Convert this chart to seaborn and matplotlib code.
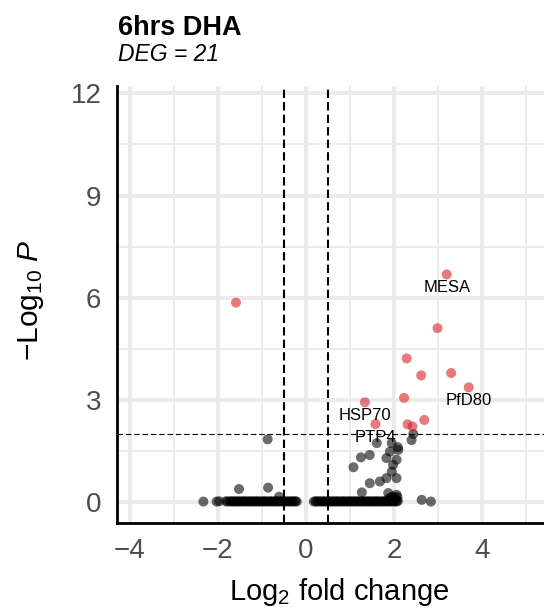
import matplotlib
matplotlib.use("Agg")
import matplotlib.pyplot as plt
import seaborn as sns
import pandas as pd
from matplotlib.ticker import MultipleLocator

# significant genes (log2 fold change, -log10 p)
sig_fc = [3.20, 2.99, 2.29, 2.62, 3.30, 3.70, 2.23, 1.34, 1.58, 2.69, 2.31, 2.42, -1.59]
sig_logp = [6.68, 5.10, 4.21, 3.71, 3.78, 3.36, 3.05, 2.92, 2.28, 2.40, 2.27, 2.21, 5.85]
sig_gene = ["MESA", "", "", "", "", "PfD80", "", "HSP70", "PTP4", "", "", "", ""]

# non-significant genes scattered above zero
ns_fc = [2.44, 2.40, 1.61, 1.95, 1.91, 2.10, 1.25, 1.45, 1.83, 2.06, 1.98, 1.08,
         1.95, 2.06, 1.83, 1.68, 1.45, 1.27, 1.87, 2.06, 2.63, 2.84, 2.09,
         -0.87, -1.52, -0.86, -0.61]
ns_logp = [1.99, 1.81, 1.72, 1.72, 1.47, 1.52, 1.30, 1.37, 1.28, 1.23, 1.08, 1.01,
           0.88, 0.69, 0.69, 0.59, 0.54, 0.27, 0.25, 0.20, 0.05, 0.00, 1.60,
           1.83, 0.37, 0.41, 0.14]

# bulk of genes sitting at -log10 p ~ 0
base_fc = [-2.33, -2.03, -1.97, -1.82, -1.78,
           -1.73, -1.69, -1.66, -1.62, -1.58, -1.55, -1.51, -1.47, -1.43, -1.40,
           -1.36, -1.32, -1.28, -1.25, -1.21, -1.17, -1.13, -1.10, -1.06, -1.02,
           -0.98, -0.95, -0.91, -0.87, -0.83, -0.80, -0.76, -0.72, -0.68, -0.65,
           -0.61, -0.57, -0.53, -0.50, -0.46, -0.42, -0.38, -0.35, -0.31, -0.27,
           -0.24, -0.21,
           0.18, 0.22, 0.25, 0.29, 0.33, 0.37, 0.40, 0.44, 0.48, 0.52, 0.55, 0.59,
           0.63, 0.67, 0.70, 0.74, 0.78, 0.82, 0.85, 0.89, 0.93, 0.97, 1.00, 1.04,
           1.08, 1.12, 1.15, 1.19, 1.23, 1.27, 1.30, 1.34, 1.38, 1.42, 1.45, 1.49,
           1.53, 1.57, 1.60, 1.64, 1.68, 1.72, 1.75, 1.79, 1.83, 1.87, 1.90, 1.94,
           1.98, 2.02, 2.06, 2.09,
           1.88, 1.93, 1.97, 2.02, 2.05, 1.91, 2.08, 2.00]
base_logp = [0.00, 0.00, 0.01, 0.01, 0.00,
             0.01, 0.00, 0.01, 0.00, 0.01, 0.00, 0.01, 0.00, 0.01, 0.00,
             0.01, 0.00, 0.01, 0.00, 0.01, 0.00, 0.01, 0.00, 0.01, 0.00,
             0.01, 0.00, 0.01, 0.00, 0.01, 0.00, 0.01, 0.00, 0.01, 0.00,
             0.01, 0.00, 0.01, 0.00, 0.01, 0.00, 0.01, 0.00, 0.01, 0.00,
             0.01, 0.00,
             0.00, 0.01, 0.00, 0.01, 0.00, 0.01, 0.00, 0.01, 0.00, 0.01, 0.00, 0.01,
             0.00, 0.01, 0.00, 0.01, 0.00, 0.01, 0.00, 0.01, 0.00, 0.01, 0.00, 0.01,
             0.00, 0.01, 0.00, 0.01, 0.00, 0.01, 0.00, 0.01, 0.00, 0.01, 0.00, 0.01,
             0.00, 0.01, 0.00, 0.01, 0.00, 0.01, 0.00, 0.01, 0.00, 0.01, 0.00, 0.01,
             0.00, 0.01, 0.00, 0.02,
             0.08, 0.12, 0.15, 0.10, 0.06, 0.04, 0.13, 0.03]

fc_cut = 0.5
p_cut = 2

df = pd.DataFrame({
    "log2fc": base_fc + ns_fc + sig_fc,
    "logp": base_logp + ns_logp + sig_logp,
    "status": ["NS"] * (len(base_fc) + len(ns_fc)) + ["DE"] * len(sig_fc),
})

sns.set_style("white")
plt.rcParams["font.family"] = ["Liberation Sans", "DejaVu Sans"]
plt.rcParams["mathtext.fontset"] = "custom"
plt.rcParams["mathtext.rm"] = "Liberation Sans"
plt.rcParams["mathtext.it"] = "Liberation Sans:italic"
plt.rcParams["text.color"] = "black"

fig = plt.figure(figsize=(5.44, 6.10), dpi=100)
ax = fig.add_axes([116.7 / 544, 1 - 523 / 610, 1 - 116.7 / 544, (523 - 86) / 610])

sns.scatterplot(data=df, x="log2fc", y="logp", hue="status",
                palette={"NS": "black", "DE": "#d81b20"},
                s=52, alpha=0.58, linewidth=0, legend=False, ax=ax, zorder=2)

for xv in (-fc_cut, fc_cut):
    ax.axvline(xv, color="black", lw=1.5, dashes=(4, 2), zorder=3)
ax.axhline(p_cut, color="black", lw=0.8, dashes=(5, 2.5), zorder=3)

for x, y, g in zip(sig_fc, sig_logp, sig_gene):
    if g:
        ax.annotate(g, (x, y), xytext=(0, -9.5), textcoords="offset points",
                    ha="center", va="center", fontsize=12, color="black")

ax.set_xlim(-4.30, 5.41)
ax.set_ylim(-0.63, 12.22)
ax.xaxis.set_major_locator(MultipleLocator(2))
ax.xaxis.set_minor_locator(MultipleLocator(1))
ax.yaxis.set_major_locator(MultipleLocator(3))
ax.yaxis.set_minor_locator(MultipleLocator(1.5))
ax.grid(which="major", color="#EBEBEB", lw=2.9, zorder=0)
ax.grid(which="minor", color="#EBEBEB", lw=1.4, zorder=0)
ax.set_axisbelow(True)

for side in ("top", "right"):
    ax.spines[side].set_visible(False)
for side in ("left", "bottom"):
    ax.spines[side].set_color("black")
    ax.spines[side].set_linewidth(2)

ax.tick_params(which="major", length=5, width=1.6, color="#333333",
               labelsize=20, labelcolor="#4D4D4D", pad=6)
ax.tick_params(which="minor", length=0)
ax.set_xticks([-4, -2, 0, 2, 4])
ax.set_xticklabels(["\u22124", "\u22122", "0", "2", "4"])
ax.set_xlabel("")
ax.set_ylabel("")

fig.text(339 / 544, 1 - 600 / 610, r"$\mathrm{Log}_{2}$ fold change",
         ha="center", va="baseline", fontsize=21)
fig.text(31 / 544, 1 - 300 / 610, r"$-\mathrm{Log}_{10}\ P$",
         ha="center", va="center", rotation=90, fontsize=21.5)
fig.text(118 / 544, 1 - 34.7 / 610, "6hrs DHA", fontsize=19.5,
         fontweight="bold", ha="left", va="baseline")
fig.text(118 / 544, 1 - 60.7 / 610, "DEG = 21", fontsize=16.5,
         fontstyle="italic", ha="left", va="baseline")

fig.savefig("out.png", dpi=100)
